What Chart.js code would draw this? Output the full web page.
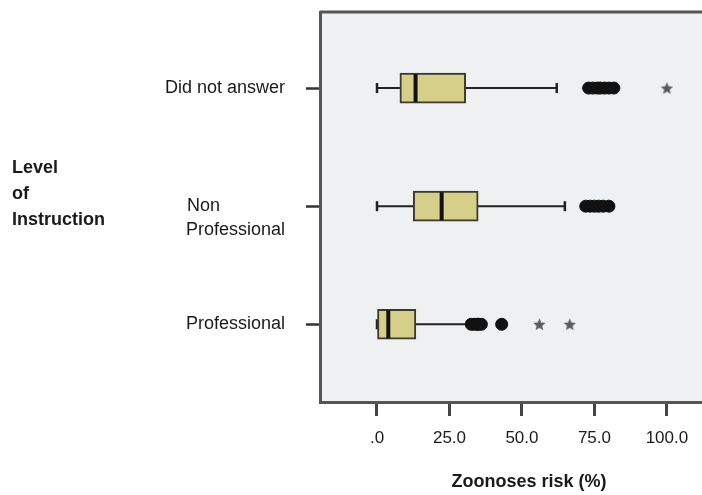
<!DOCTYPE html>
<html>
<head>
<meta charset="utf-8">
<script src="https://cdn.jsdelivr.net/npm/chart.js@4/dist/chart.umd.min.js"></script>
<style>
  html, body { margin: 0; padding: 0; background: #fff; }
  #wrap { width: 702px; height: 495px; }
</style>
</head>
<body>
<div id="wrap"><canvas id="zoo-chart" width="702" height="495"></canvas></div>
<script>
// categories (top to bottom) and tick labels
var categories = ["Did not answer", "Non Professional", "Professional"];
var categoryLabels = ["Did not answer", ["", "Non             ", "Professional"], "Professional"];
var xTicks = [0, 25, 50, 75, 100];
var xTickLabels = [".0", "25.0", "50.0", "75.0", "100.0"];

// box plot values, Zoonoses risk (%)
var whiskerMin = [0, 0, 0];
var q1 = [7.9, 12.5, 0];
var median = [13.3, 22.3, 3.9];
var q3 = [30.6, 34.9, 13.4];
var whiskerMax = [62, 64.8, 32];
var outliers = [
  [73, 74.5, 76, 77, 78.5, 80, 81.7],
  [72, 73.5, 75, 76.5, 78, 80],
  [32.5, 33.5, 34.5, 35, 36, 43]
];
var extremes = [[100], [], [56, 66.5]];

var FONT = "'Liberation Sans', Arial, Helvetica, sans-serif";

// small five point star used for extreme values
function makeStar(size, color) {
  var c = document.createElement("canvas");
  c.width = size; c.height = size;
  var g = c.getContext("2d");
  var r = size / 2, ri = r * 0.45;
  g.beginPath();
  for (var k = 0; k < 10; k++) {
    var rad = k % 2 === 0 ? r : ri;
    var a = -Math.PI / 2 + k * Math.PI / 5;
    var px = r + rad * Math.cos(a), py = r + rad * Math.sin(a) + 0.5;
    if (k === 0) g.moveTo(px, py); else g.lineTo(px, py);
  }
  g.closePath();
  g.fillStyle = color;
  g.fill();
  return c;
}
var star = makeStar(13, "#5a5a5a");

var datasets = [];

// whiskers with end caps
for (var i = 0; i < categories.length; i++) {
  datasets.push({
    type: "scatter",
    data: [{x: whiskerMin[i], y: i + 1}, {x: whiskerMax[i], y: i + 1}],
    showLine: true,
    borderColor: "#222",
    borderWidth: 2,
    pointStyle: "line",
    rotation: 90,
    pointRadius: 5,
    pointBorderWidth: 2.5,
    pointBorderColor: "#222",
    order: 4
  });
}

// boxes (q1 - q3)
datasets.push({
  type: "bar",
  indexAxis: "y",
  data: categories.map(function (c, i) { return {x: [q1[i], q3[i]], y: i + 1}; }),
  backgroundColor: "#d6cf8a",
  borderColor: "#3c3a2c",
  borderWidth: 2,
  borderSkipped: false,
  barThickness: 30,
  order: 3
});

// medians
datasets.push({
  type: "scatter",
  data: categories.map(function (c, i) { return {x: median[i], y: i + 1}; }),
  pointStyle: "line",
  rotation: 90,
  pointRadius: 14,
  pointBorderWidth: 4,
  pointBorderColor: "#111",
  order: 2
});

// outliers
var outPts = [];
outliers.forEach(function (arr, i) {
  arr.forEach(function (v) { outPts.push({x: v, y: i + 1}); });
});
datasets.push({
  type: "scatter",
  data: outPts,
  pointStyle: "circle",
  pointRadius: 6,
  backgroundColor: "#111",
  borderColor: "#111",
  order: 1
});

// extremes
var extPts = [];
extremes.forEach(function (arr, i) {
  arr.forEach(function (v) { extPts.push({x: v, y: i + 1}); });
});
datasets.push({
  type: "scatter",
  data: extPts,
  pointStyle: star,
  order: 0
});

var frame = {
  id: "frame",
  beforeDraw: function (chart) {
    var a = chart.chartArea, ctx = chart.ctx;
    ctx.save();
    ctx.fillStyle = "#eef0f2";
    ctx.fillRect(a.left, a.top, a.right - a.left, a.bottom - a.top);
    ctx.strokeStyle = "#555";
    ctx.lineWidth = 3;
    ctx.beginPath();
    ctx.moveTo(a.left, a.top);
    ctx.lineTo(a.right, a.top);
    ctx.stroke();
    ctx.restore();
  },
  afterDraw: function (chart) {
    var a = chart.chartArea, ctx = chart.ctx;
    ctx.save();
    ctx.fillStyle = "#1a1a1a";
    ctx.font = "bold 18px " + FONT;
    ctx.textBaseline = "middle";
    ctx.textAlign = "left";
    ctx.fillText("Level", 12, 168);
    ctx.fillText("of", 12, 194);
    ctx.fillText("Instruction", 12, 220);
    ctx.textAlign = "center";
    ctx.fillText("Zoonoses risk (%)", a.left + 209, 482);
    ctx.restore();
  }
};

new Chart(document.getElementById("zoo-chart"), {
  data: { datasets: datasets },
  options: {
    responsive: false,
    animation: false,
    layout: { autoPadding: false, padding: { top: 12, left: 0, right: 0, bottom: 0 } },
    plugins: {
      legend: { display: false },
      tooltip: { enabled: false }
    },
    scales: {
      x: {
        type: "linear",
        position: "bottom",
        offset: false,
        min: -19.66,
        max: 112.1,
        afterBuildTicks: function (s) {
          s.ticks = xTicks.map(function (v) { return {value: v}; });
        },
        afterFit: function (s) {
          s.height = 93;
          s.paddingLeft = 0; s.paddingRight = 0;
        },
        ticks: {
          color: "#1a1a1a",
          font: { family: FONT, size: 17 },
          padding: 12,
          maxRotation: 0,
          callback: function (v, idx) { return xTickLabels[idx]; }
        },
        grid: {
          offset: false,
          drawOnChartArea: false,
          drawTicks: true,
          tickLength: 14,
          tickWidth: 3,
          tickColor: "#444"
        },
        border: { display: true, color: "#555", width: 3 }
      },
      y: {
        type: "linear",
        position: "left",
        reverse: true,
        offset: false,
        min: 0.356,
        max: 3.658,
        afterBuildTicks: function (s) {
          s.ticks = categories.map(function (c, i) { return {value: i + 1}; });
        },
        afterFit: function (s) {
          s.width = 320;
          s.paddingTop = 0; s.paddingBottom = 0;
        },
        ticks: {
          color: "#1a1a1a",
          font: { family: FONT, size: 18, lineHeight: 1.35 },
          padding: 21,
          callback: function (v, idx) { return categoryLabels[idx]; }
        },
        grid: {
          offset: false,
          drawOnChartArea: false,
          drawTicks: true,
          tickLength: 14,
          tickWidth: 2.5,
          tickColor: "#333"
        },
        border: { display: true, color: "#555", width: 3 }
      }
    }
  },
  plugins: [frame]
});
</script>
</body>
</html>
